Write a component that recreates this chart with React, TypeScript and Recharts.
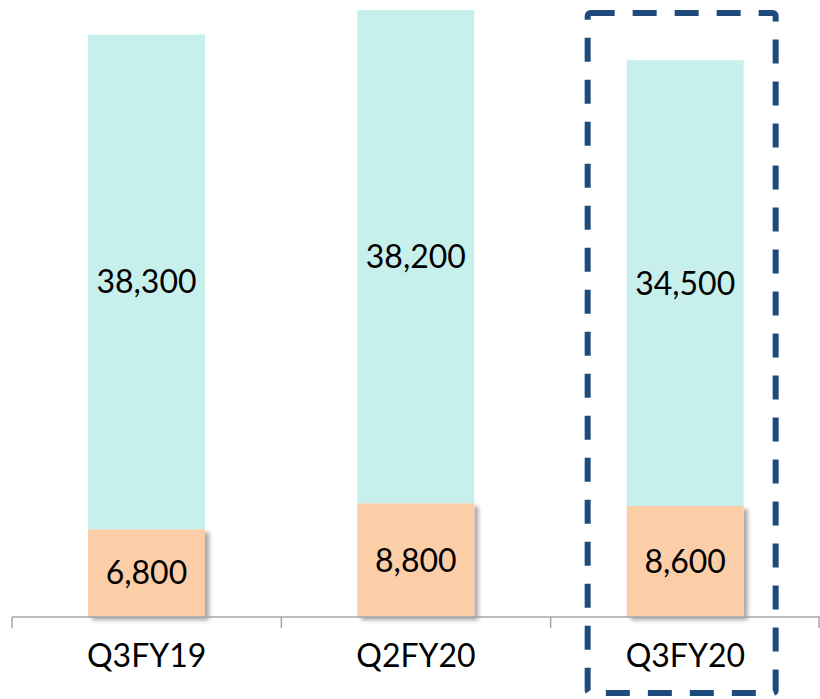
import { Bar, BarChart, LabelList, ReferenceArea, XAxis, YAxis } from "recharts";

const quarters = ["Q3FY19", "Q2FY20", "Q3FY20"];
const lowerValues = [6800, 8800, 8600];
const upperValues = [38300, 38200, 34500];

const data = quarters.map((quarter, i) => ({
  quarter,
  lower: lowerValues[i],
  upper: upperValues[i],
}));

const WIDTH = 820;
const HEIGHT = 699;
const LEFT = 12;
const HALF_BAND = (WIDTH - LEFT) / quarters.length / 2;
const FONT = "Lato, 'Open Sans', sans-serif";

const fmt = (v: any) => Number(v).toLocaleString("en-US");

function QuarterTick(props: any) {
  const { x, y, payload, index } = props;
  const last = index === quarters.length - 1;
  return (
    <g>
      <line x1={x - HALF_BAND} y1={y} x2={x - HALF_BAND} y2={y + 11} stroke="#a6a6a6" strokeWidth={1.5} />
      {last && (
        <line x1={x + HALF_BAND - 1} y1={y} x2={x + HALF_BAND - 1} y2={y + 11} stroke="#a6a6a6" strokeWidth={1.5} />
      )}
      <text x={x} y={y + 50} textAnchor="middle" fontSize={32} fill="#000" fontFamily={FONT}>
        {payload.value}
      </text>
    </g>
  );
}

function HighlightBox(props: any) {
  const { x, y, height } = props;
  return (
    <rect
      x={x + 37}
      y={y + 3}
      width={188}
      height={height + 73}
      rx={3}
      fill="none"
      stroke="#1f4a7c"
      strokeWidth={6}
      strokeDasharray="24 18"
    />
  );
}

export default function App() {
  return (
    <div style={{ position: "absolute", left: 0, top: 0, width: WIDTH, height: HEIGHT, background: "#fff" }}>
      <BarChart
        width={WIDTH}
        height={HEIGHT}
        data={data}
        margin={{ top: 10, right: 0, bottom: 0, left: LEFT }}
      >
        <defs>
          <filter id="barShadow" x="-10%" y="-10%" width="130%" height="130%">
            <feDropShadow dx={4} dy={3} stdDeviation={2} floodColor="#000" floodOpacity={0.35} />
          </filter>
        </defs>
        <XAxis
          dataKey="quarter"
          axisLine={{ stroke: "#a6a6a6", strokeWidth: 1.5 }}
          tickLine={false}
          tickSize={0}
          tickMargin={0}
          height={82}
          tick={<QuarterTick />}
          interval={0}
        />
        <YAxis hide domain={[0, 47000]} />
        <Bar dataKey="lower" stackId="a" fill="#fbcea7" barSize={117} isAnimationActive={false} filter="url(#barShadow)">
          <LabelList dataKey="lower" position="center" formatter={fmt} fill="#000" fontSize={32} fontFamily={FONT} />
        </Bar>
        <Bar dataKey="upper" stackId="a" fill="#c7efec" barSize={117} isAnimationActive={false}>
          <LabelList dataKey="upper" position="center" formatter={fmt} fill="#000" fontSize={32} fontFamily={FONT} />
        </Bar>
        <ReferenceArea
          x1="Q3FY20"
          x2="Q3FY20"
          y1={0}
          y2={47000}
          ifOverflow="visible"
          shape={<HighlightBox />}
        />
      </BarChart>
    </div>
  );
}
